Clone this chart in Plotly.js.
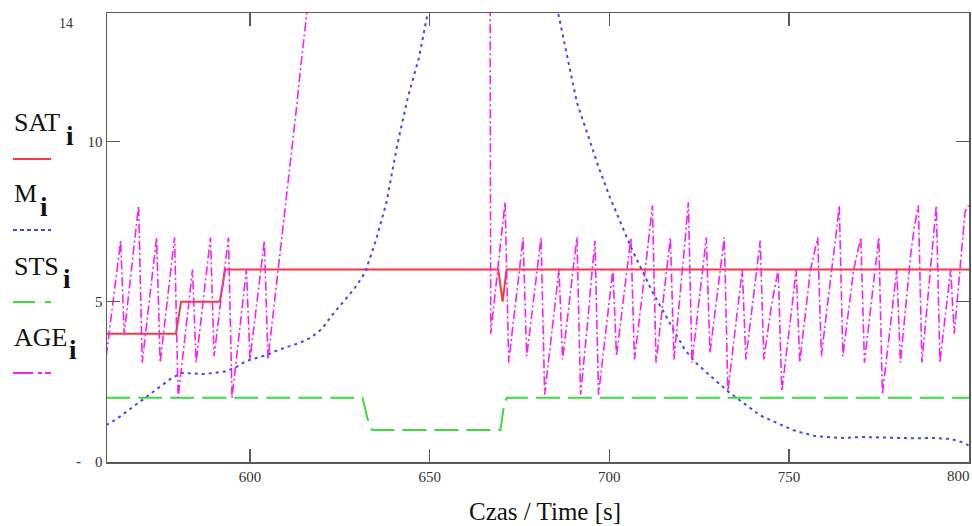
<!DOCTYPE html>
<html><head><meta charset="utf-8">
<script src="https://cdn.plot.ly/plotly-3.0.1.min.js"></script>
<style>html,body{margin:0;padding:0;background:#fff}#chart{width:972px;height:526px}</style>
</head><body><div id="chart"></div>
<script>
// SAT_i (red, solid)
const satT = [560, 579.4, 580.8, 591.6, 593.1, 669.1, 670.3, 671.4, 800.2];
const satV = [4, 4, 5, 5, 6, 6, 5, 6, 6];

// STS_i (green, dashed)
const stsT = [560, 631.3, 632.7, 634, 669.7, 670.8, 671.5, 800.2];
const stsV = [2, 2, 1.35, 1, 1, 1.85, 2, 2];

// M_i (blue, dotted)
const mT = [560, 563, 566, 569, 572, 575, 578, 581, 584, 587, 590, 593, 596, 599, 602, 605, 608, 611, 614, 617,
            620, 623, 626, 629, 632, 635, 638, 641, 644, 647, 650, 655, 660, 665, 670, 675, 680, 685, 688, 691,
            694, 697, 700, 703, 706, 709, 712, 715, 718, 721, 724, 727, 730, 733, 736, 739, 742, 745, 748, 751,
            754, 757, 760, 765, 770, 775, 780, 785, 790, 795, 798, 800];
const mV = [1.15, 1.35, 1.6, 1.85, 2.1, 2.35, 2.6, 2.78, 2.76, 2.74, 2.78, 2.82, 2.95, 3.15, 3.25, 3.35, 3.5, 3.6, 3.72, 3.88,
            4.15, 4.6, 5.0, 5.4, 5.9, 6.9, 8.1, 9.9, 11.4, 12.6, 14.3, 17, 19.5, 21, 21.5, 20, 17.5, 14.4, 12.8, 11.2,
            10.2, 9.2, 8.3, 7.5, 6.7, 6.0, 5.3, 4.7, 4.1, 3.5, 3.1, 2.8, 2.5, 2.2, 1.95, 1.7, 1.45, 1.3, 1.15, 1.0,
            0.9, 0.82, 0.78, 0.75, 0.78, 0.76, 0.76, 0.74, 0.75, 0.72, 0.62, 0.52];

// AGE_i (magenta, dash-dot)
const ageT = [560, 561, 562, 563, 564, 565, 566, 567, 568, 569,
              570, 571, 572, 573, 574, 575, 576, 577, 578, 579,
              580, 581, 582, 583, 584, 585, 586, 587, 588, 589,
              590, 591, 592, 593, 594, 595, 596, 597, 598, 599,
              600, 601, 602, 603, 604, 605, 606, 607, 608, 609,
              610, 611, 612, 613, 614, 615, 616, 617,
              666,
              667, 668, 669, 670, 671, 672, 673, 674, 675, 676,
              677, 678, 679, 680, 681, 682, 683, 684, 685, 686,
              687, 688, 689, 690, 691, 692, 693, 694, 695, 696,
              697, 698, 699, 700, 701, 702, 703, 704, 705, 706,
              707, 708, 709, 710, 711, 712, 713, 714, 715, 716,
              717, 718, 719, 720, 721, 722, 723, 724, 725, 726,
              727, 728, 729, 730, 731, 732, 733, 734, 735, 736,
              737, 738, 739, 740, 741, 742, 743, 744, 745, 746,
              747, 748, 749, 750, 751, 752, 753, 754, 755, 756,
              757, 758, 759, 760, 761, 762, 763, 764, 765, 766,
              767, 768, 769, 770, 771, 772, 773, 774, 775, 776,
              777, 778, 779, 780, 781, 782, 783, 784, 785, 786,
              787, 788, 789, 790, 791, 792, 793, 794, 795, 796,
              797, 798, 799, 800];
const ageV = [3.3, 4.2, 5.1, 6.0, 6.9, 4.0, 5.0, 6.0, 7.0, 8.0,
              3.1, 4.1, 5.0, 6.0, 7.0, 3.1, 4.1, 5.0, 6.0, 7.0,
              2.0, 3.0, 4.0, 5.0, 6.0, 3.1, 4.1, 5.0, 6.0, 7.0,
              3.3, 4.2, 5.1, 6.0, 7.0, 2.0, 3.1, 4.0, 5.0, 6.0,
              3.2, 4.1, 5.0, 6.0, 6.9, 3.2, 4.2, 5.1, 6.0, 7.0,
              8.0, 9.1, 10.1, 11.1, 12.2, 13.2, 14.2, 15.2,
              64.0,
              4.0, 5.1, 6.0, 7.1, 8.1, 3.1, 4.1, 5.0, 6.0, 7.0,
              3.3, 4.2, 5.1, 6.1, 7.0, 2.1, 3.1, 4.1, 5.0, 6.0,
              3.2, 4.1, 5.1, 6.1, 7.0, 2.1, 3.2, 4.4, 5.7, 6.9,
              2.1, 3.1, 4.1, 5.0, 6.0, 3.3, 4.2, 5.1, 6.0, 7.0,
              3.2, 4.1, 5.1, 6.0, 7.0, 8.0, 3.1, 4.1, 5.0, 6.1,
              7.0, 3.2, 4.3, 5.6, 6.8, 8.1, 3.1, 4.1, 5.0, 6.0,
              7.0, 3.4, 4.3, 5.2, 6.1, 7.0, 2.2, 3.2, 4.1, 5.0,
              6.0, 3.2, 4.1, 5.0, 6.0, 6.9, 3.2, 4.0, 4.8, 5.4,
              6.0, 2.2, 3.1, 4.1, 5.0, 6.0, 3.1, 4.1, 5.0, 6.0,
              6.5, 7.0, 3.3, 4.3, 5.2, 6.1, 7.0, 8.0, 3.3, 4.2,
              5.1, 6.0, 6.5, 7.0, 3.1, 4.1, 5.0, 6.0, 7.0, 2.1,
              3.1, 4.1, 5.0, 6.0, 3.1, 4.2, 5.4, 6.6, 7.4, 8.0,
              3.1, 4.3, 5.5, 6.8, 8.0, 3.1, 4.1, 5.0, 6.0, 4.0,
              5.3, 6.5, 7.8, 8.0];

const xTicks = [600, 650, 700, 750, 800];
const xTickText = ['600', '650', '700', '750', ''];
const yTicks = [0, 5, 10, 14];
const yTickText = ['0', '5', '10', ''];

const legendNames = ['SAT', 'M', 'STS', 'AGE'];
const colors = {sat: '#f23c3c', m: '#4646ee', sts: '#3ddc3d', age: '#f522f5'};

const L = 107, T = 13, PW = 862, PH = 449;
const px = x => (x - L) / PW;
const py = y => (T + PH - y) / PH;

const traces = [
  {x: satT, y: satV, mode: 'lines', line: {color: colors.sat, width: 2}, name: 'SAT'},
  {x: mT, y: mV, mode: 'lines', line: {color: colors.m, width: 2, dash: '3px,4px'}, name: 'M'},
  {x: stsT, y: stsV, mode: 'lines', line: {color: colors.sts, width: 2, dash: '24px,8px'}, name: 'STS'},
  {x: ageT, y: ageV, mode: 'lines', line: {color: colors.age, width: 1.6, dash: '9px,3px,2px,3px'}, name: 'AGE'}
];

const serif = 'Liberation Serif, Times New Roman, serif';
const legRows = [
  {name: legendNames[0], capY: 123, iX: 64, subY: 136, lineY: 159, color: colors.sat, dash: 'solid'},
  {name: legendNames[1], capY: 194, iX: 38, subY: 207, lineY: 230, color: colors.m, dash: '4px,3px'},
  {name: legendNames[2], capY: 266, iX: 61, subY: 279, lineY: 302, color: colors.sts, dash: '22px,10px'},
  {name: legendNames[3], capY: 337, iX: 67, subY: 350, lineY: 373, color: colors.age, dash: '20px,5px,4px,3px'}
];

const annotations = [];
const shapes = [];
legRows.forEach(r => {
  annotations.push({xref: 'paper', yref: 'paper', x: px(12), y: py(r.capY), xanchor: 'left', yanchor: 'middle',
    text: r.name, showarrow: false, font: {family: serif, size: 26, color: '#111'}});
  annotations.push({xref: 'paper', yref: 'paper', x: px(r.iX), y: py(r.subY), xanchor: 'left', yanchor: 'middle',
    text: '<b>i</b>', showarrow: false, font: {family: serif, size: 27, color: '#111'}});
  shapes.push({type: 'line', xref: 'paper', yref: 'paper', x0: px(13), x1: px(51), y0: py(r.lineY), y1: py(r.lineY),
    line: {color: r.color, width: 2, dash: r.dash}});
});
annotations.push({xref: 'paper', yref: 'paper', x: px(66), y: py(23), xanchor: 'center', yanchor: 'middle',
  text: '14', showarrow: false, font: {family: serif, size: 14, color: '#333'}});
annotations.push({xref: 'paper', yref: 'paper', x: px(958), y: py(476), xanchor: 'center', yanchor: 'middle',
  text: '800', showarrow: false, font: {family: serif, size: 15, color: '#333'}});
annotations.push({xref: 'paper', yref: 'paper', x: px(78), y: py(461), xanchor: 'center', yanchor: 'middle',
  text: '<b>-</b>', showarrow: false, font: {family: serif, size: 15, color: '#333'}});
annotations.push({xref: 'paper', yref: 'paper', x: px(545), y: py(511), xanchor: 'center', yanchor: 'middle',
  text: 'Czas / Time [s]', showarrow: false, font: {family: serif, size: 25, color: '#111'}});

const axisCommon = {showgrid: false, zeroline: false, showline: true, linecolor: '#5a5a5a', linewidth: 1.5,
  mirror: 'ticks', ticks: 'inside', ticklen: 13, tickwidth: 1.5, tickcolor: '#5a5a5a',
  tickfont: {family: serif, size: 15, color: '#333'}};

const layout = {
  width: 972, height: 526,
  margin: {l: L, r: 972 - L - PW, t: T, b: 526 - T - PH},
  paper_bgcolor: '#fff', plot_bgcolor: '#fff',
  showlegend: false,
  xaxis: Object.assign({}, axisCommon, {range: [560.2, 800.1], tickmode: 'array', tickvals: xTicks, ticktext: xTickText}),
  yaxis: Object.assign({}, axisCommon, {range: [0, 14], tickmode: 'array', tickvals: yTicks, ticktext: yTickText}),
  annotations: annotations,
  shapes: shapes
};

Plotly.newPlot('chart', traces, layout, {displayModeBar: false, staticPlot: true});
</script></body></html>
